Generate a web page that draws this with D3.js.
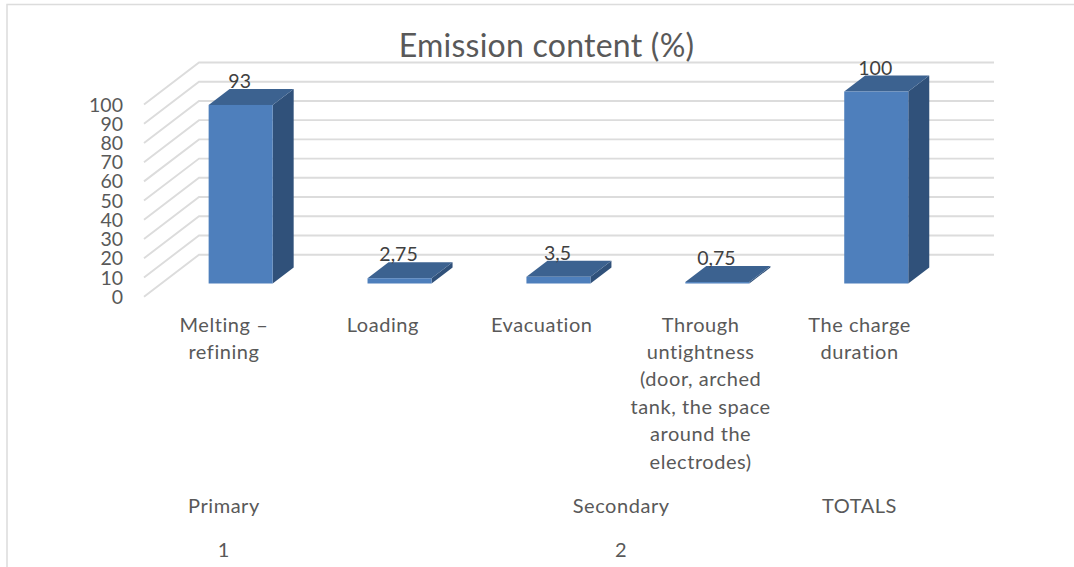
<!DOCTYPE html>
<html>
<head>
<meta charset="utf-8">
<script src="https://cdn.jsdelivr.net/npm/d3@7/dist/d3.min.js"></script>
<style>
html,body{margin:0;padding:0;background:#fff;}
svg{display:block;}
text{font-family:Lato,"Open Sans",sans-serif;}
</style>
</head>
<body>
<svg id="chart" width="1074" height="567"></svg>
<script>
const chartTitle = "Emission content (%)";
const categories = ["Melting – refining", "Loading", "Evacuation", "Through untightness", "The charge duration"];
const categoryLines = [
  ["Melting –", "refining"],
  ["Loading"],
  ["Evacuation"],
  ["Through", "untightness", "(door, arched", "tank, the space", "around the", "electrodes)"],
  ["The charge", "duration"]
];
const values = [93, 2.75, 3.5, 0.75, 100];
const valueLabels = ["93", "2,75", "3,5", "0,75", "100"];
const groupNames = ["Primary", "Secondary", "TOTALS"];
const groupX = [0, 2.5, 4];
const outerNames = ["1", "2"];
const outerX = [0, 2.5];
const yTicks = [0, 10, 20, 30, 40, 50, 60, 70, 80, 90, 100];

const svg = d3.select("#chart");
const gridColor = "#dcdcdc", textColor = "#595959", labelColor = "#404040";
const frontColor = "#4e7fbc", topColor = "#3c6290", sideColor = "#30517a";

// Oblique projection: the wall sits behind the axis plane, bars sit in between.
const wallDx = 55, wallDy = -42;
const barDx = 21, barDy = -16;

const yAxisScale = d3.scaleLinear().domain([0, 100]).range([296.7, 104.5]);
const yBar = d3.scaleLinear().domain([0, 100]).range([283.5, 91.5]);
const x = d3.scaleBand().domain(d3.range(categories.length))
  .range([161.2, 955.7]).paddingInner(0.597).paddingOuter(0.2985);
const step = x.step();
const wallLeft = 144, wallRight = 994;
const labelCenter = i => x(i) + x.bandwidth() / 2 - 16.7;

// Outer chart frame, open at the right and bottom
svg.append("path").attr("d", "M7,567V4.5H1074")
  .attr("fill", "none").attr("stroke", gridColor).attr("stroke-width", 1.5);

// Gridlines: slanted floor run plus the line along the back wall
const grid = svg.append("g").attr("fill", "none").attr("stroke", gridColor).attr("stroke-width", 1.9);
grid.selectAll("path").data(yTicks).join("path")
  .attr("d", t => {
    const y0 = yAxisScale(t);
    return `M${wallLeft},${y0}L${wallLeft + wallDx},${y0 + wallDy}H${wallRight}`;
  });

// Value axis labels
svg.append("g").attr("fill", textColor).attr("font-size", 19.5).attr("text-anchor", "end")
  .selectAll("text").data(yTicks).join("text")
  .attr("x", 123).attr("y", t => yAxisScale(t)).attr("dy", "0.36em").text(t => t);

// 3D bars: side, top, then front face
const bars = svg.append("g").selectAll("g").data(values).join("g");
bars.append("path").attr("fill", sideColor).attr("d", (v, i) => {
  const r = x(i) + x.bandwidth(), t = yBar(v), b = yBar(0);
  return `M${r},${t}l${barDx},${barDy}V${b + barDy}L${r},${b}Z`;
});
bars.append("path").attr("fill", topColor).attr("d", (v, i) => {
  const l = x(i), r = l + x.bandwidth(), t = yBar(v);
  return `M${l},${t}l${barDx},${barDy}H${r + barDx}L${r},${t}Z`;
});
bars.append("rect").attr("fill", frontColor)
  .attr("x", (v, i) => x(i)).attr("width", x.bandwidth())
  .attr("y", v => yBar(v)).attr("height", v => yBar(0) - yBar(v));

// Value labels above each bar
svg.append("g").attr("fill", labelColor).attr("font-size", 19.5).attr("text-anchor", "middle")
  .selectAll("text").data(values).join("text")
  .attr("x", (v, i) => x(i) + x.bandwidth() / 2 - 1)
  .attr("y", v => yBar(v) - 17)
  .text((v, i) => valueLabels[i]);

// Chart title
svg.append("text").attr("x", 546.5).attr("y", 57).attr("text-anchor", "middle")
  .attr("font-size", 32).attr("letter-spacing", 0.25).attr("fill", textColor).text(chartTitle);

// Category labels, wrapped on fixed lines
const catG = svg.append("g").attr("fill", textColor).attr("font-size", 20).attr("letter-spacing", 0.55).attr("text-anchor", "middle");
categoryLines.forEach((lines, i) => {
  catG.append("text").selectAll("tspan").data(lines).join("tspan")
    .attr("x", labelCenter(i)).attr("y", (d, j) => 331.5 + j * 27.4).text(d => d);
});

// Multi-level category rows
const rowX = p => labelCenter(0) + p * step;
svg.append("g").attr("fill", textColor).attr("font-size", 20).attr("letter-spacing", 0.55).attr("text-anchor", "middle")
  .selectAll("text").data(groupNames).join("text")
  .attr("x", (d, i) => rowX(groupX[i])).attr("y", 512.5).text(d => d);
svg.append("g").attr("fill", textColor).attr("font-size", 20).attr("letter-spacing", 0.55).attr("text-anchor", "middle")
  .selectAll("text").data(outerNames).join("text")
  .attr("x", (d, i) => rowX(outerX[i])).attr("y", 556.5).text(d => d);
</script>
</body>
</html>
